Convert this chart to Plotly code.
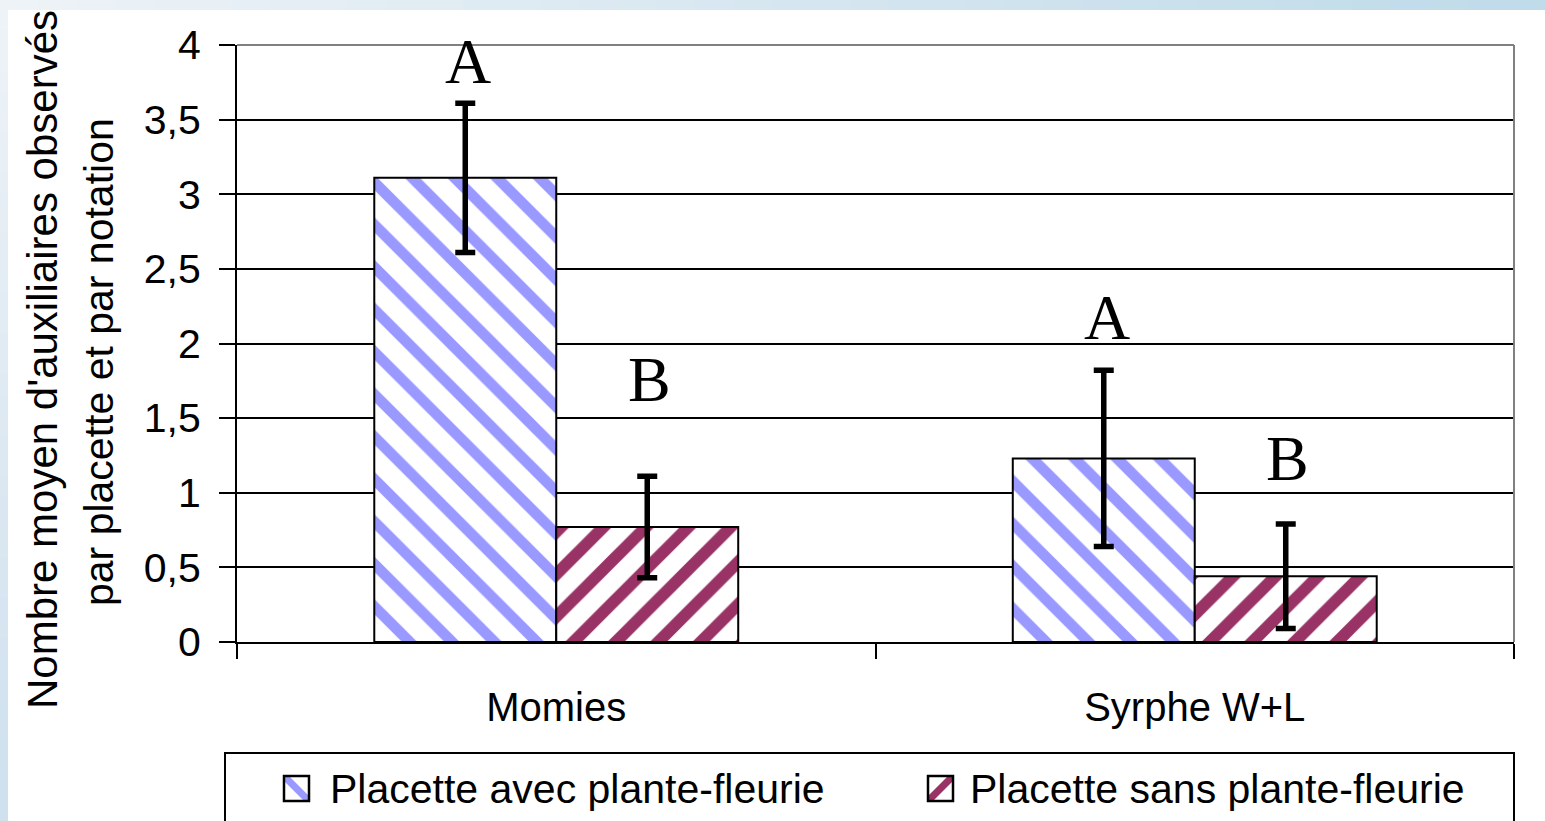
import plotly.graph_objects as go

# -----------------------------------------------------------------------------
# Data
# -----------------------------------------------------------------------------
categories = ["Momies", "Syrphe W+L"]

avec_values = [3.11, 1.23]
avec_errors = [0.50, 0.59]
sans_values = [0.77, 0.44]
sans_errors = [0.34, 0.35]

avec_letters = ["A", "A"]
sans_letters = ["B", "B"]
avec_letter_y = [3.73, 2.02]
sans_letter_y = [1.60, 1.07]

y_ticks = [0, 0.5, 1, 1.5, 2, 2.5, 3, 3.5, 4]

name_avec = "Placette avec plante-fleurie"
name_sans = "Placette sans plante-fleurie"
y_title_1 = "Nombre moyen d'auxiliaires observés"
y_title_2 = "par placette et par notation"

# -----------------------------------------------------------------------------
# Page geometry (pixels)
# -----------------------------------------------------------------------------
W, H = 1545, 821
L, R, T, B = 237, 1514, 45, 642


def px(x):
    return (x - L) / (R - L)


def py(y):
    return (B - y) / (B - T)


BLUE = "#9999FF"
PLUM = "#993366"
SANS = "Liberation Sans, Arial, sans-serif"
SERIF = "Liberation Serif, Times New Roman, serif"

fig = go.Figure()

fig.add_trace(go.Bar(
    x=categories,
    y=avec_values,
    name=name_avec,
    showlegend=False,
    marker=dict(
        color="white",
        line=dict(color="black", width=2),
        pattern=dict(shape="\\", fgcolor=BLUE, bgcolor="white", fgopacity=1,
                     size=30, solidity=0.36, fillmode="overlay"),
    ),
    error_y=dict(type="data", array=avec_errors, color="black",
                 thickness=5.5, width=10),
))
fig.add_trace(go.Bar(
    x=categories,
    y=sans_values,
    name=name_sans,
    showlegend=False,
    marker=dict(
        color="white",
        line=dict(color="black", width=2),
        pattern=dict(shape="/", fgcolor=PLUM, bgcolor="white", fgopacity=1,
                     size=30, solidity=0.4, fillmode="overlay"),
    ),
    error_y=dict(type="data", array=sans_errors, color="black",
                 thickness=5.5, width=10),
))

# significance letters above each bar
annotations = []
for cat, txt, yy in zip(categories, avec_letters, avec_letter_y):
    annotations.append(dict(x=cat, y=yy, xref="x", yref="y", text=txt,
                            showarrow=False, xshift=-88, yshift=-14,
                            yanchor="bottom",
                            font=dict(family=SERIF, size=64, color="black")))
for cat, txt, yy in zip(categories, sans_letters, sans_letter_y):
    annotations.append(dict(x=cat, y=yy, xref="x", yref="y", text=txt,
                            showarrow=False, xshift=93, yshift=-14,
                            yanchor="bottom",
                            font=dict(family=SERIF, size=64, color="black")))

# y axis title, two rotated lines
annotations.append(dict(x=px(42), y=py(360), xref="paper", yref="paper",
                        text=y_title_1, textangle=-90, showarrow=False,
                        xanchor="center", yanchor="middle",
                        font=dict(family=SANS, size=42, color="black")))
annotations.append(dict(x=px(99), y=py(362), xref="paper", yref="paper",
                        text=y_title_2, textangle=-90, showarrow=False,
                        xanchor="center", yanchor="middle",
                        font=dict(family=SANS, size=41, color="black")))

# legend texts
annotations.append(dict(x=px(328), y=py(789), xref="paper", yref="paper",
                        text=name_avec, showarrow=False,
                        xanchor="left", yanchor="middle",
                        font=dict(family=SANS, size=41, color="black")))
annotations.append(dict(x=px(968), y=py(789), xref="paper", yref="paper",
                        text=name_sans, showarrow=False,
                        xanchor="left", yanchor="middle",
                        font=dict(family=SANS, size=41, color="black")))

shapes = []

# light blue frame band on top and left edges
n = 40
for i in range(n):
    t = i / (n - 1)
    r = int(238 + (192 - 238) * t)
    g = int(243 + (219 - 243) * t)
    b = int(247 + (234 - 247) * t)
    shapes.append(dict(type="rect", xref="paper", yref="paper", layer="below",
                       x0=px(W * i / n), x1=px(W * (i + 1) / n + 1),
                       y0=py(10), y1=py(0),
                       fillcolor=f"rgb({r},{g},{b})", line=dict(width=0)))
    r = int(238 + (207 - 238) * t)
    g = int(243 + (225 - 243) * t)
    b = int(247 + (239 - 247) * t)
    shapes.append(dict(type="rect", xref="paper", yref="paper", layer="below",
                       x0=px(0), x1=px(8),
                       y0=py(10 + (H - 10) * (i + 1) / n + 1),
                       y1=py(10 + (H - 10) * i / n),
                       fillcolor=f"rgb({r},{g},{b})", line=dict(width=0)))

# grey top and right border of the plot area
shapes.append(dict(type="line", xref="paper", yref="paper", layer="above",
                   x0=0, x1=1, y0=1, y1=1, line=dict(color="#808080", width=2)))
shapes.append(dict(type="line", xref="paper", yref="paper", layer="above",
                   x0=1, x1=1, y0=0, y1=1, line=dict(color="#808080", width=2)))

# legend frame
shapes.append(dict(type="rect", xref="paper", yref="paper", layer="above",
                   x0=px(225), x1=px(1514), y0=py(830), y1=py(753),
                   fillcolor="rgba(0,0,0,0)", line=dict(color="black", width=2)))


def legend_key(x0, x1, y0, y1, color, back):
    h = 5
    if back:  # "\" stripe
        pts = [(x0, y0), (x0 + h, y0), (x1, y1 - h), (x1, y1), (x1 - h, y1), (x0, y0 + h)]
    else:  # "/" stripe
        pts = [(x0, y1), (x0, y1 - h), (x1 - h, y0), (x1, y0), (x1, y0 + h), (x0 + h, y1)]
    path = "M " + " L ".join(f"{px(a)},{py(b)}" for a, b in pts) + " Z"
    out = [dict(type="path", xref="paper", yref="paper", layer="above", path=path,
                fillcolor=color, line=dict(width=0))]
    out.append(dict(type="rect", xref="paper", yref="paper", layer="above",
                    x0=px(x0), x1=px(x1), y0=py(y1), y1=py(y0),
                    fillcolor="rgba(0,0,0,0)", line=dict(color="black", width=2.5)))
    return out


shapes += legend_key(284, 309, 776, 801, BLUE, True)
shapes += legend_key(928, 953, 776, 801, PLUM, False)

fig.update_layout(
    width=W,
    height=H,
    margin=dict(l=L, r=W - R, t=T, b=H - B, pad=0),
    paper_bgcolor="white",
    plot_bgcolor="white",
    separators=", ",
    barmode="group",
    bargap=0.43,
    bargroupgap=0,
    showlegend=False,
    annotations=annotations,
    shapes=shapes,
    xaxis=dict(
        type="category",
        showline=True, linecolor="black", linewidth=2,
        ticks="outside", tickson="boundaries", ticklen=15,
        tickcolor="black", tickwidth=2,
        tickfont=dict(family=SANS, size=40, color="black"),
        ticklabelstandoff=29,
        showgrid=False,
    ),
    yaxis=dict(
        range=[0, 4],
        tickvals=y_ticks,
        showline=True, linecolor="black", linewidth=2,
        ticks="outside", ticklen=16, tickcolor="black", tickwidth=2,
        tickfont=dict(family=SANS, size=41, color="black"),
        ticklabelstandoff=10,
        showgrid=True, gridcolor="black", gridwidth=2,
        zeroline=False,
    ),
)

fig.write_html(
    "out.html",
    config={"displayModeBar": False},
    post_script="document.body.style.margin='0';document.body.style.overflow='hidden';",
)
